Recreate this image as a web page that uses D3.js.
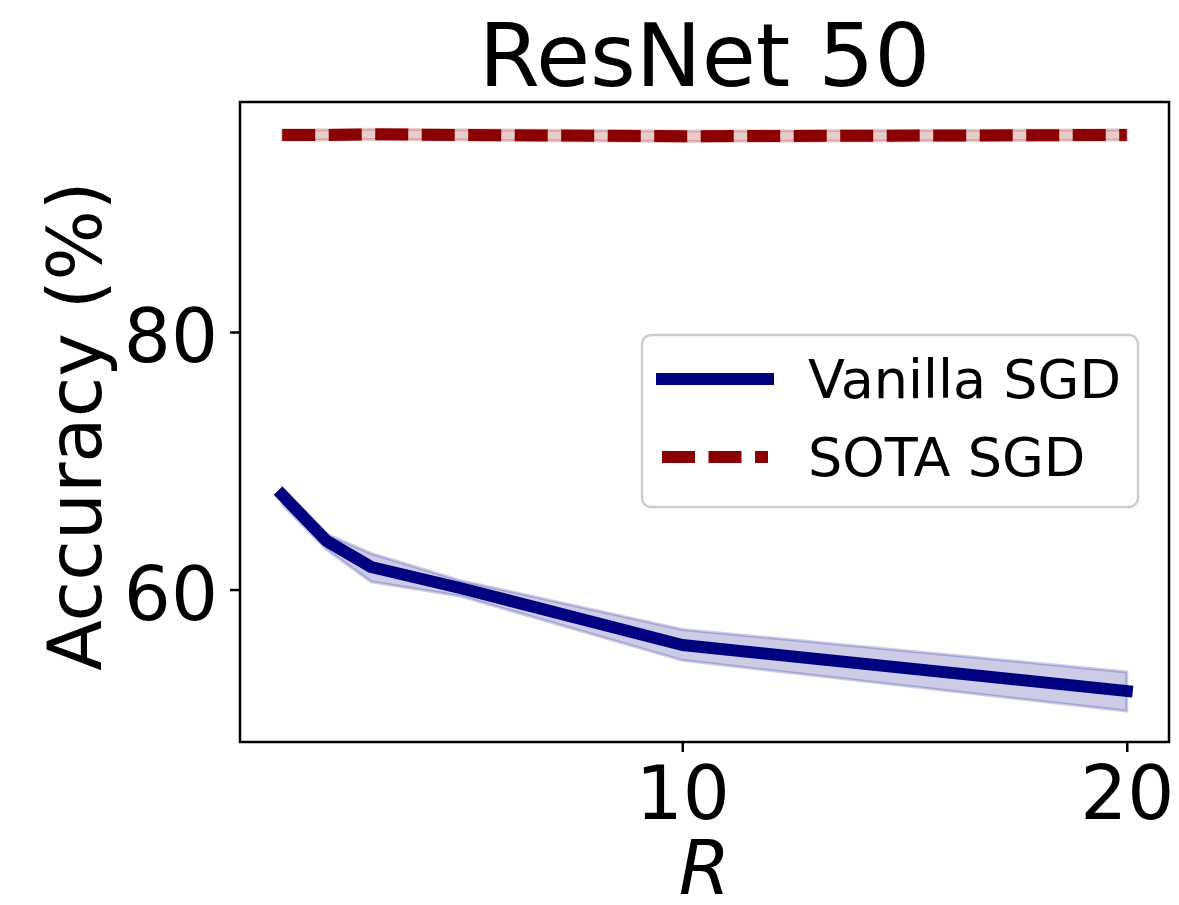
<!DOCTYPE html>
<html>
<head>
<meta charset="utf-8">
<script src="https://cdn.jsdelivr.net/npm/d3@7"></script>
<style>
body { margin: 0; background: #fff; }
text { font-family: "DejaVu Sans", sans-serif; fill: #000; }
</style>
</head>
<body>
<script>
// values
const rValues = [1, 2, 3, 5, 10, 20];
const vanillaMean = [67.34, 63.77, 61.75, 60.12, 55.69, 52.12];
const vanillaLow = [66.6, 63.1, 60.6, 59.5, 54.5, 50.56];
const vanillaHigh = [67.9, 64.3, 62.8, 60.7, 56.9, 53.6];
const sotaMean = [95.3, 95.3, 95.35, 95.3, 95.2, 95.3];
const sotaLow = [94.9, 94.9, 94.95, 94.9, 94.8, 94.9];
const sotaHigh = [95.7, 95.7, 95.75, 95.7, 95.6, 95.7];
const xTicks = [10, 20];
const yTicks = [60, 80];
const seriesNames = ["Vanilla SGD", "SOTA SGD"];
const seriesColors = ["#000080", "#8b0000"];

const margin = { top: 102, right: 10, bottom: 163, left: 240 },
    width = 1179 - margin.left - margin.right,
    height = 905 - margin.top - margin.bottom;

var x = d3.scaleLinear()
    .domain([0.05, 20.95])
    .range([0, width]);

var y = d3.scaleLinear()
    .domain([48.16, 97.86])
    .range([height, 0]);

var svg = d3.select("body").append("svg")
    .attr("width", 1179)
    .attr("height", 905);

var g = svg.append("g")
    .attr("transform", "translate(" + margin.left + "," + margin.top + ")");

function toRows(mean, lo, hi) {
    return rValues.map((r, i) => ({ r: r, mean: mean[i], lo: lo[i], hi: hi[i] }));
}
var series = [
    toRows(vanillaMean, vanillaLow, vanillaHigh),
    toRows(sotaMean, sotaLow, sotaHigh)
];

var band = d3.area()
    .x(d => x(d.r))
    .y0(d => y(d.lo))
    .y1(d => y(d.hi));

var line = d3.line()
    .x(d => x(d.r))
    .y(d => y(d.mean));

// shaded bands
series.forEach(function(rows, i) {
    g.append("path")
        .datum(rows)
        .attr("d", band)
        .attr("fill", seriesColors[i])
        .attr("fill-opacity", 0.2)
        .attr("stroke", seriesColors[i])
        .attr("stroke-opacity", 0.2)
        .attr("stroke-width", 3);
});

// mean lines
g.append("path")
    .datum(series[0])
    .attr("d", line)
    .attr("fill", "none")
    .attr("stroke", seriesColors[0])
    .attr("stroke-width", 12)
    .attr("stroke-linecap", "square")
    .attr("stroke-linejoin", "round");

g.append("path")
    .datum(series[1])
    .attr("d", line)
    .attr("fill", "none")
    .attr("stroke", seriesColors[1])
    .attr("stroke-width", 12)
    .attr("stroke-dasharray", "33,13.5");

// axes
var xAxis = d3.axisBottom(x)
    .tickValues(xTicks)
    .tickSize(10)
    .tickPadding(14)
    .tickFormat(d3.format("d"));
var yAxis = d3.axisLeft(y)
    .tickValues(yTicks)
    .tickSize(10)
    .tickPadding(12)
    .tickFormat(d3.format("d"));

var gx = g.append("g")
    .attr("transform", "translate(0," + height + ")")
    .call(xAxis);
var gy = g.append("g")
    .call(yAxis);

[gx, gy].forEach(function(a) {
    a.select(".domain").remove();
    a.selectAll("line").attr("stroke", "#000").attr("stroke-width", 2.5);
    a.selectAll("text")
        .attr("font-family", "DejaVu Sans")
        .attr("font-size", 74)
        .attr("fill", "#000");
});
gy.selectAll("text").attr("dy", "0.4em");

// frame
g.append("rect")
    .attr("x", 0)
    .attr("y", 0)
    .attr("width", width)
    .attr("height", height)
    .attr("fill", "none")
    .attr("stroke", "#000")
    .attr("stroke-width", 2.5);

// title and labels
g.append("text")
    .attr("x", width / 2)
    .attr("y", -16)
    .style("text-anchor", "middle")
    .style("font-size", "88px")
    .text("ResNet 50");

g.append("text")
    .attr("x", width / 2)
    .attr("y", height + 152)
    .style("text-anchor", "middle")
    .style("font-size", "74px")
    .style("font-style", "italic")
    .text("R");

g.append("text")
    .attr("transform", "rotate(-90)")
    .attr("x", -(height / 2) - 4)
    .attr("y", -139)
    .style("text-anchor", "middle")
    .style("font-size", "74px")
    .text("Accuracy (%)");

// legend
var legend = svg.append("g")
    .attr("transform", "translate(642,335)");

legend.append("rect")
    .attr("width", 496)
    .attr("height", 172)
    .attr("rx", 9)
    .attr("fill", "#fff")
    .attr("fill-opacity", 0.8)
    .attr("stroke", "#cccccc")
    .attr("stroke-width", 2.5);

var items = legend.selectAll(".item")
    .data(seriesNames)
    .enter()
    .append("g")
    .attr("class", "item")
    .attr("transform", (d, i) => "translate(0," + (44 + i * 78) + ")");

items.append("line")
    .attr("x1", 20)
    .attr("x2", 126)
    .attr("y1", 0)
    .attr("y2", 0)
    .attr("stroke", (d, i) => seriesColors[i])
    .attr("stroke-width", 12)
    .attr("stroke-linecap", (d, i) => i === 0 ? "square" : "butt")
    .attr("stroke-dasharray", (d, i) => i === 0 ? null : "33,13.5");

items.append("text")
    .attr("x", 166)
    .attr("y", 19)
    .style("font-size", "54px")
    .text(d => d);
</script>
</body>
</html>
